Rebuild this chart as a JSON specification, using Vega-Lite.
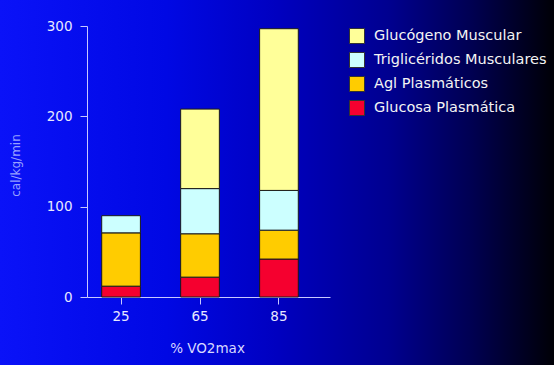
{
  "$schema": "https://vega.github.io/schema/vega-lite/v6.json",
  "width": 554,
  "height": 365,
  "autosize": {"type": "none"},
  "padding": 0,
  "background": "#0000a0",
  "config": {
    "font": "DejaVu Sans",
    "view": {
      "stroke": null,
      "fill": {
        "gradient": "linear", "x1": 0, "y1": 0, "x2": 1, "y2": 0,
        "stops": [
          {"offset": 0, "color": "#0a12f8"},
          {"offset": 0.3, "color": "#0008e4"},
          {"offset": 0.5, "color": "#0000c0"},
          {"offset": 0.7, "color": "#000090"},
          {"offset": 0.85, "color": "#000052"},
          {"offset": 1, "color": "#000006"}
        ]
      }
    }
  },
  "data": {
    "values": [
      {"vo2": "25", "fuente": "Glucosa Plasmática", "valor": 12, "ord": 1},
      {"vo2": "25", "fuente": "Agl Plasmáticos", "valor": 59, "ord": 2},
      {"vo2": "25", "fuente": "Triglicéridos Musculares", "valor": 19, "ord": 3},
      {"vo2": "65", "fuente": "Glucosa Plasmática", "valor": 22, "ord": 1},
      {"vo2": "65", "fuente": "Agl Plasmáticos", "valor": 48, "ord": 2},
      {"vo2": "65", "fuente": "Triglicéridos Musculares", "valor": 50, "ord": 3},
      {"vo2": "65", "fuente": "Glucógeno Muscular", "valor": 88, "ord": 4},
      {"vo2": "85", "fuente": "Glucosa Plasmática", "valor": 42, "ord": 1},
      {"vo2": "85", "fuente": "Agl Plasmáticos", "valor": 32, "ord": 2},
      {"vo2": "85", "fuente": "Triglicéridos Musculares", "valor": 44, "ord": 3},
      {"vo2": "85", "fuente": "Glucógeno Muscular", "valor": 179, "ord": 4}
    ]
  },
  "mark": {"type": "bar", "stroke": "#1a1a1a", "strokeWidth": 1},
  "encoding": {
    "x": {
      "field": "vo2", "type": "ordinal",
      "scale": {"range": [87, 330], "paddingInner": 0.51, "paddingOuter": 0.294, "align": 0.317},
      "axis": {
        "title": "% VO2max",
        "offset": -68,
        "labelAngle": 0,
        "labelFontSize": 13.5,
        "labelColor": "#e8e8ff",
        "labelPadding": 5,
        "tickSize": 7,
        "tickColor": "#c8c8ff",
        "domainColor": "#c8c8ff",
        "titleFontSize": 13.5,
        "titleFontWeight": "normal",
        "titleColor": "#d8d8ff",
        "titleX": 207,
        "titleY": 44,
        "titleAnchor": "middle",
        "titleBaseline": "top"
      }
    },
    "y": {
      "field": "valor", "type": "quantitative", "stack": "zero",
      "scale": {"domain": [0, 300], "range": [297, 26], "nice": false},
      "axis": {
        "title": "cal/kg/min",
        "offset": -87,
        "values": [0, 100, 200, 300],
        "grid": false,
        "labelFontSize": 13.5,
        "labelColor": "#e8e8ff",
        "labelPadding": 8,
        "tickSize": 7,
        "tickColor": "#c8c8ff",
        "domainColor": "#c8c8ff",
        "titleFontSize": 12,
        "titleFontWeight": "normal",
        "titleColor": "#98a0ff",
        "titleX": -72,
        "titleY": 165,
        "titleAngle": -90,
        "titleAnchor": "middle",
        "titleBaseline": "middle"
      }
    },
    "color": {
      "field": "fuente", "type": "nominal",
      "scale": {
        "domain": ["Glucógeno Muscular", "Triglicéridos Musculares", "Agl Plasmáticos", "Glucosa Plasmática"],
        "range": ["#ffff99", "#ccffff", "#ffcc00", "#f5002f"]
      },
      "legend": {
        "title": null,
        "orient": "none",
        "legendX": 349,
        "legendY": 28,
        "symbolType": "square",
        "symbolSize": 225,
        "symbolStrokeColor": "#333333",
        "symbolStrokeWidth": 1,
        "symbolOpacity": 1,
        "labelFontSize": 14.5,
        "labelColor": "#f4f4f4",
        "labelOffset": 9,
        "rowPadding": 4,
        "labelLimit": 300
      }
    },
    "order": {"field": "ord", "type": "quantitative"}
  }
}
